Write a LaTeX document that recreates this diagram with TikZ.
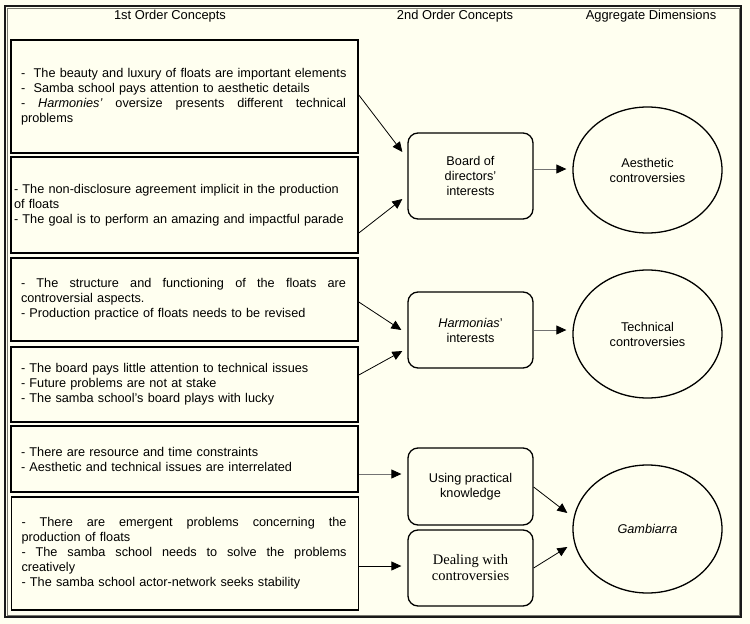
\documentclass[tikz,border=0pt]{standalone}
\usepackage{fontspec}
\setmainfont{Liberation Sans}
\newfontfamily\tms{Liberation Serif}
\usetikzlibrary{shapes.geometric,arrows.meta,calc}
\definecolor{cream}{RGB}{255,255,240}
\definecolor{framegray}{RGB}{120,120,110}
\newlength\jlw
\setlength\jlw{325pt}
\newcommand\jl[1]{\makebox[\jlw][s]{\spaceskip=0.278em plus 1fil\relax #1}}
\begin{document}
\begin{tikzpicture}[x=1pt,y=-1pt,
  every node/.style={font=\fontsize{12.7}{15}\selectfont},
  leftbox/.style={draw=black, line width=1.6pt, fill=cream, minimum width=347pt,
    minimum height=#1, inner sep=0pt, text width=327pt, align=left,
    execute at begin node={\hyphenpenalty=10000\exhyphenpenalty=10000\hbadness=10000}},
  midbox/.style={draw=black, line width=1.3pt, fill=cream, rounded corners=10pt,
    minimum width=125pt, minimum height=#1, inner sep=0pt, align=center},
  dimell/.style={draw=black, line width=1.3pt, fill=cream, ellipse,
    minimum width=149pt, minimum height=#1, inner sep=0pt, align=center},
  header/.style={font=\fontsize{12.9}{14}\selectfont},
  arr/.style={-{Triangle[length=10pt,width=9pt,black]}, line width=0.8pt, draw=black},
  grayarr/.style={arr, draw=black!55}
]
\useasboundingbox (0,0) rectangle (750,624);
\fill[cream] (0,0) rectangle (750,624);
\draw[line width=1.4pt, draw=black!90] (5,6) rectangle (741,617);
\draw[line width=0.7pt, draw=framegray] (7,8) rectangle (739,615);

\node[header] (h1) at (170,16) {1st Order Concepts};
\node[header] (h2) at (455,16) {2nd Order Concepts};
\node[header] (h3) at (651,16) {Aggregate Dimensions};

\node[leftbox=113pt] (B1) at (184.5,96.5) {\mbox{-\ \ The beauty and luxury of floats are important elements}\\
-\ \ Samba school pays attention to aesthetic details\\
\jl{- \textit{Harmonies'} oversize presents different technical}\\
problems};

\node[leftbox=96pt, text width=341pt] (B2) at (184.5,205) {\mbox{- The non-disclosure agreement implicit in the production}\\
of floats\\
\mbox{- The goal is to perform an amazing and impactful parade}};

\node[leftbox=83pt] (B3) at (184.5,299.5) {\jl{- The structure and functioning of the floats are}\\
controversial aspects.\\
- Production practice of floats needs to be revised};

\node[leftbox=75pt] (B4) at (184.5,384.5) {- The board pays little attention to technical issues\\
- Future problems are not at stake\\
- The samba school's board plays with lucky};

\node[leftbox=66pt] (B5) at (184.5,459) {- There are resource and time constraints\\
- Aesthetic and technical issues are interrelated};

\node[leftbox=113pt] (B6) at (185,553.5) {\jl{- There are emergent problems concerning the}\\
production of floats\\
\jl{- The samba school needs to solve the problems}\\
creatively\\
- The samba school actor-network seeks stability};

\node[midbox=86pt] (M1) at (470.5,176) {Board of\\directors'\\interests};
\node[midbox=76pt] (M2) at (470.5,330) {\textit{Harmonias}'\\interests};
\node[midbox=77pt] (M3) at (470.5,486.5) {Using practical\\knowledge};
\node[midbox=76pt, font=\tms\fontsize{14.5}{16}\selectfont] (M4) at (470.5,568) {Dealing with\\controversies};

\node[dimell=126pt] (E1) at (647.5,170) {Aesthetic\\controversies};
\node[dimell=128pt] (E2) at (647.5,334) {Technical\\controversies};
\node[dimell=128pt] (E3) at (647.5,529) {\textit{Gambiarra}};

\draw[arr] ($(B1.east)+(0,-1.5)$) -- ($(M1.west)+(-5,-24)$);
\draw[arr] ($(B2.east)+(0,28)$) -- ($(M1.west)+(-5,23)$);
\draw[grayarr] ($(M1.east)+(0,-7)$) -- ($(E1.west)+(-6,-1)$);
\draw[arr] ($(B3.east)+(0,2.5)$) -- ($(M2.west)+(-6,0)$);
\draw[arr] ($(B4.east)+(0,-9.5)$) -- ($(M2.west)+(-5,21)$);
\draw[grayarr] (M2.east) -- ($(E2.west)+(-6,-4)$);
\draw[grayarr] ($(B5.east)+(0,15)$) -- ($(M3.west)+(-6,-12.5)$);
\draw[arr] ($(B6.east)+(0,12.5)$) -- ($(M4.west)+(-6,-2)$);
\draw[arr] ($(M3.east)+(0,0.5)$) -- ($(E3.west)+(-5,-16)$);
\draw[arr] (M4.east) -- ($(E3.west)+(-5,18)$);
\end{tikzpicture}
\end{document}
